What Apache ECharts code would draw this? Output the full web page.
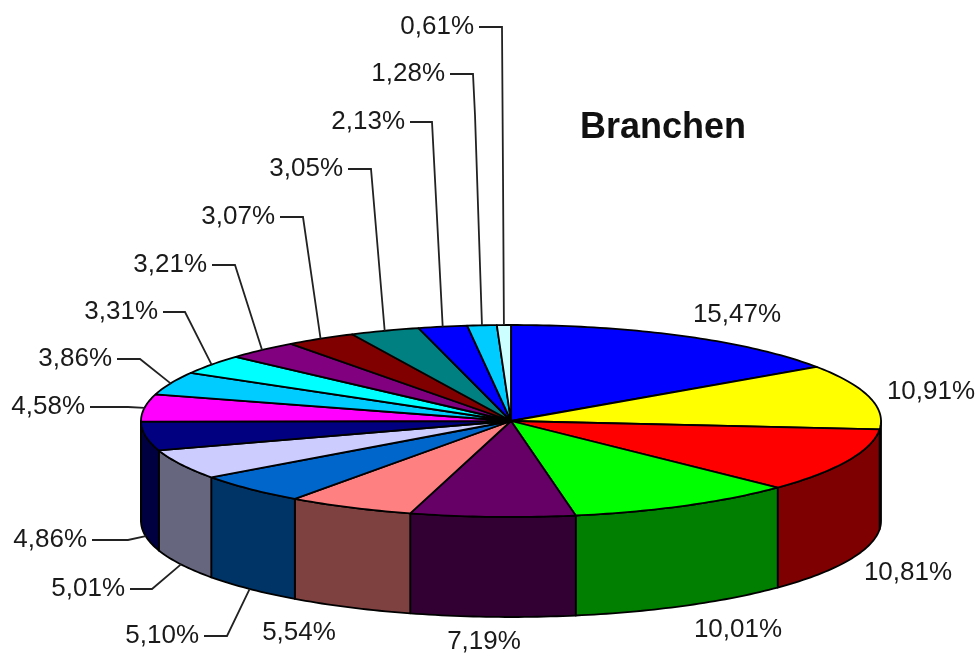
<!DOCTYPE html>
<html>
<head>
<meta charset="utf-8">
<style>
  html, body { margin: 0; padding: 0; background: #fff; }
  #main { width: 975px; height: 655px; }
</style>
<script src="https://cdn.jsdelivr.net/npm/echarts@6/dist/echarts.min.js"></script>
</head>
<body>
<div id="main"></div>
<script>
var branchen = [15.47, 10.91, 10.81, 10.01, 7.19, 5.54, 5.10, 5.01, 4.86, 4.58, 3.86, 3.31, 3.21, 3.07, 3.05, 2.13, 1.28, 0.61];
var farben = ['#0000ff', '#ffff00', '#ff0000', '#00ff00', '#660066', '#ff8080', '#0066cc', '#ccccff', '#000080',
  '#ff00ff', '#00ccff', '#00ffff', '#800080', '#800000', '#008080', '#0000ff', '#00ccff', '#ccffff'];
var titel = 'Branchen';

// pie geometry
var cx = 511, cy = 421, rx = 370, ry = 96, tiefe = 100;

// label position per slice, leader elbows in between (empty = no leader)
var labelPos = [
  [737, 315, 'center'], [931, 392, 'center'], [908, 573, 'center'], [738, 630, 'center'],
  [484, 642, 'center'], [299, 633, 'center'], [199, 636, 'right'], [125, 589, 'right'],
  [87, 540, 'right'], [85, 407, 'right'], [112, 359, 'right'], [158, 312, 'right'],
  [207, 265, 'right'], [275, 217, 'right'], [343, 169, 'right'], [405, 122, 'right'],
  [445, 74, 'right'], [474, 27, 'right']
];
var elbows = [
  [], [], [], [], [], [],
  [[227, 636]], [[152, 589]], [[128, 540]], [[128, 407]], [[140, 359]], [[185, 312]],
  [[235, 265]], [[303, 217]], [[371, 169]], [[432, 122]],
  [[473, 74], [475, 115]], [[502, 27], [503, 175]]
];

// start / end fraction of each slice, clockwise from 12 o'clock
var summe = branchen.reduce(function (a, b) { return a + b; }, 0);
var grenzen = [];
branchen.reduce(function (acc, v) {
  grenzen.push([acc / summe, (acc + v) / summe]);
  return acc + v;
}, 0);

function punkt(frac, dy) {
  var a = frac * Math.PI * 2;
  return [cx + rx * Math.sin(a), cy - ry * Math.cos(a) + (dy || 0)];
}

function arc(f0, f1, dy) {
  var n = Math.max(2, Math.ceil((f1 - f0) * 360));
  var pts = [];
  for (var i = 0; i <= n; i++) {
    pts.push(punkt(f0 + (f1 - f0) * i / n, dy));
  }
  return pts;
}

function dunkel(hex) {
  var c = echarts.color.parse(hex);
  return 'rgb(' + Math.floor(c[0] / 2) + ',' + Math.floor(c[1] / 2) + ',' + Math.floor(c[2] / 2) + ')';
}

var rand = { stroke: '#000', lineWidth: 1.8, lineJoin: 'round' };

function wandItem(params) {
  var g = grenzen[params.dataIndex];
  var f0 = Math.max(g[0], 0.25), f1 = Math.min(g[1], 0.75);
  if (f1 <= f0) return { type: 'group', children: [] };
  var oben = arc(f0, f1, 0);
  var unten = arc(f0, f1, tiefe).reverse();
  return {
    type: 'polygon',
    shape: { points: oben.concat(unten) },
    style: Object.assign({ fill: dunkel(farben[params.dataIndex]) }, rand)
  };
}

function deckelItem(params) {
  var g = grenzen[params.dataIndex];
  return {
    type: 'polygon',
    shape: { points: [[cx, cy]].concat(arc(g[0], g[1], 0)) },
    style: Object.assign({ fill: farben[params.dataIndex] }, rand)
  };
}

function labelItem(params, api) {
  var i = params.dataIndex;
  var pos = labelPos[i];
  var kids = [{
    type: 'text',
    style: {
      text: api.value(0).toFixed(2).replace('.', ',') + '%',
      x: pos[0], y: pos[1],
      align: pos[2], verticalAlign: 'middle',
      font: '26px "Liberation Sans", Arial, sans-serif',
      fill: '#1a1a1a'
    }
  }];
  if (elbows[i].length) {
    var mitte = (grenzen[i][0] + grenzen[i][1]) / 2;
    var vorn = mitte > 0.25 && mitte < 0.75;
    var line = [[pos[0] + 5, pos[1]]].concat(elbows[i], [punkt(mitte, vorn ? tiefe : 0)]);
    kids.push({
      type: 'polyline',
      shape: { points: line },
      style: { stroke: '#222', lineWidth: 1.8, fill: null }
    });
  }
  return { type: 'group', children: kids };
}

var chart = echarts.init(document.getElementById('main'));
var daten = branchen.map(function (v) { return [v]; });

chart.setOption({
  animation: false,
  backgroundColor: '#fff',
  title: {
    text: titel,
    left: 575,
    top: 105,
    textStyle: { fontFamily: '"Liberation Sans", Arial, sans-serif', fontSize: 36, fontWeight: 'bold', color: '#111' }
  },
  series: [
    { type: 'custom', coordinateSystem: 'none', silent: true, z: 1, data: daten, renderItem: wandItem },
    { type: 'custom', coordinateSystem: 'none', silent: true, z: 2, data: daten, renderItem: deckelItem },
    { type: 'custom', coordinateSystem: 'none', silent: true, z: 3, data: daten, renderItem: labelItem }
  ]
});
</script>
</body>
</html>
